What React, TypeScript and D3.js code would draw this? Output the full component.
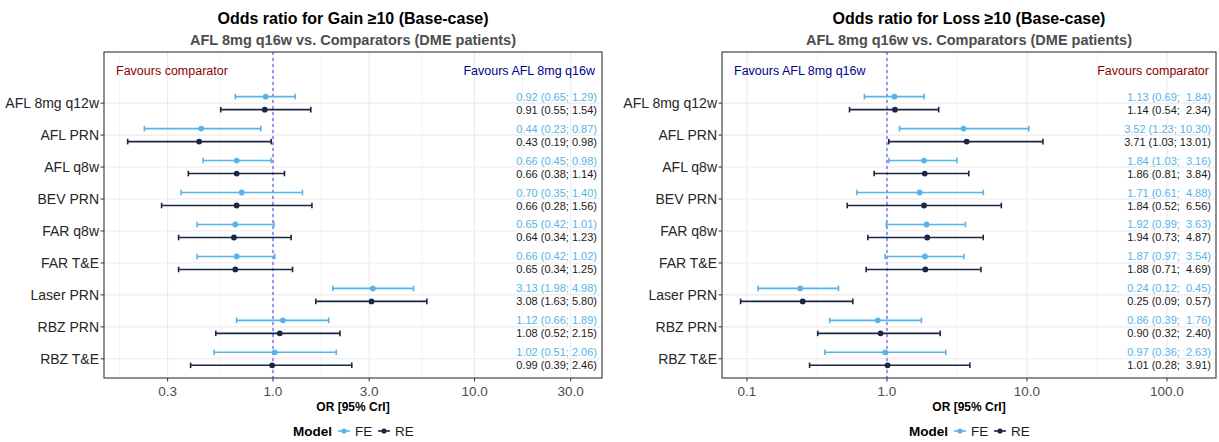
import React from "react";
import * as d3 from "d3";

// comparators, top to bottom
const categories = [
  "AFL 8mg q12w",
  "AFL PRN",
  "AFL q8w",
  "BEV PRN",
  "FAR q8w",
  "FAR T&E",
  "Laser PRN",
  "RBZ PRN",
  "RBZ T&E",
];

// Gain >=10 : [estimate, lower, upper]
const gainFE = [
  [0.92, 0.65, 1.29], [0.44, 0.23, 0.87], [0.66, 0.45, 0.98], [0.70, 0.35, 1.40],
  [0.65, 0.42, 1.01], [0.66, 0.42, 1.02], [3.13, 1.98, 4.98], [1.12, 0.66, 1.89],
  [1.02, 0.51, 2.06],
];
const gainRE = [
  [0.91, 0.55, 1.54], [0.43, 0.19, 0.98], [0.66, 0.38, 1.14], [0.66, 0.28, 1.56],
  [0.64, 0.34, 1.23], [0.65, 0.34, 1.25], [3.08, 1.63, 5.80], [1.08, 0.52, 2.15],
  [0.99, 0.39, 2.46],
];

// Loss >=10
const lossFE = [
  [1.13, 0.69, 1.84], [3.52, 1.23, 10.30], [1.84, 1.03, 3.16], [1.71, 0.61, 4.88],
  [1.92, 0.99, 3.63], [1.87, 0.97, 3.54], [0.24, 0.12, 0.45], [0.86, 0.39, 1.76],
  [0.97, 0.36, 2.63],
];
const lossRE = [
  [1.14, 0.54, 2.34], [3.71, 1.03, 13.01], [1.86, 0.81, 3.84], [1.84, 0.52, 6.56],
  [1.94, 0.73, 4.87], [1.88, 0.71, 4.69], [0.25, 0.09, 0.57], [0.90, 0.32, 2.40],
  [1.01, 0.28, 3.91],
];

const gainTicks = [0.3, 1, 3, 10, 30];
const lossTicks = [0.1, 1, 10, 100];

const FE_COL = "#56B4E9";
const RE_COL = "#1c2541";
const FONT = "'Liberation Sans', Arial, sans-serif";

const fmt = d3.format(".2f");
// pad the upper bound like sprintf("%5.2f") does
const label = (d: number[], w: number) =>
  `${fmt(d[0])} (${fmt(d[1])}; ${fmt(d[2]).padStart(w, "\u00a0")})`;

type PanelProps = {
  title: string;
  fe: number[][];
  re: number[][];
  domain: [number, number];
  ticks: number[];
  minor: number[];
  left: number;
  right: number;
  favLeft: string;
  favRight: string;
  favLeftCol: string;
  favRightCol: string;
  padW: number;
};

const Panel = (p: PanelProps) => {
  const top = 52;
  const bottom = 378;
  const x = d3.scaleLog().domain(p.domain).range([p.left, p.right]);
  // first slot is the row holding the "Favours" notes
  const y = d3
    .scalePoint<string>()
    .domain(["__fav", ...categories])
    .range([top, bottom])
    .padding(0.6);
  const dodge = 6.5;
  const cx = (p.left + p.right) / 2;

  const bars = (data: number[][], col: string, off: number, r: number) =>
    data.map((d, i) => {
      const yy = (y(categories[i]) as number) + off;
      return (
        <g key={col + i}>
          <line x1={x(d[1])} x2={x(d[2])} y1={yy} y2={yy} stroke={col} strokeWidth={1.6} />
          <line x1={x(d[1])} x2={x(d[1])} y1={yy - 2.8} y2={yy + 2.8} stroke={col} strokeWidth={1.6} />
          <line x1={x(d[2])} x2={x(d[2])} y1={yy - 2.8} y2={yy + 2.8} stroke={col} strokeWidth={1.6} />
          <circle cx={x(d[0])} cy={yy} r={r} fill={col} />
        </g>
      );
    });

  return (
    <g fontFamily={FONT}>
      <text x={cx} y={24} textAnchor="middle" fontSize={16} fontWeight="bold" fill="#000">
        {p.title}
      </text>
      <text x={cx} y={45} textAnchor="middle" fontSize={14.5} fontWeight="bold" fill="#4d4d4d">
        AFL 8mg q16w vs. Comparators (DME patients)
      </text>

      <rect x={p.left} y={top} width={p.right - p.left} height={bottom - top} fill="#fff" />
      {p.minor.map((t) => (
        <line key={"mn" + t} x1={x(t)} x2={x(t)} y1={top} y2={bottom} stroke="#F2F2F2" strokeWidth={0.8} />
      ))}
      {p.ticks.map((t) => (
        <line key={"mj" + t} x1={x(t)} x2={x(t)} y1={top} y2={bottom} stroke="#EBEBEB" strokeWidth={1.1} />
      ))}
      {categories.map((c) => (
        <line key={"hg" + c} x1={p.left} x2={p.right} y1={y(c)} y2={y(c)} stroke="#EBEBEB" strokeWidth={1.1} />
      ))}

      <line x1={x(1)} x2={x(1)} y1={top} y2={bottom} stroke="#3b3bff" strokeWidth={1} strokeDasharray="3,3" />

      {bars(p.fe, FE_COL, -dodge, 2.9)}
      {bars(p.re, RE_COL, dodge, 2.9)}

      {categories.map((c, i) => (
        <g key={"lb" + c} fontSize={11} textAnchor="end">
          <text x={p.right - 5} y={(y(c) as number) - dodge + 4} fill={FE_COL}>
            {label(p.fe[i], p.padW)}
          </text>
          <text x={p.right - 5} y={(y(c) as number) + dodge + 4} fill="#1a1a1a">
            {label(p.re[i], p.padW)}
          </text>
        </g>
      ))}

      <text x={p.left + 12} y={(y("__fav") as number) + 4} fontSize={12.5} fill={p.favLeftCol}>
        {p.favLeft}
      </text>
      <text x={p.right - 7} y={(y("__fav") as number) + 4} fontSize={12.5} textAnchor="end" fill={p.favRightCol}>
        {p.favRight}
      </text>

      <rect x={p.left} y={top} width={p.right - p.left} height={bottom - top} fill="none" stroke="#333" strokeWidth={1.1} />

      {categories.map((c) => (
        <g key={"yt" + c}>
          <line x1={p.left - 3.5} x2={p.left} y1={y(c)} y2={y(c)} stroke="#333" />
          <text x={p.left - 5} y={(y(c) as number) + 5} textAnchor="end" fontSize={14} fill="#262626">
            {c}
          </text>
        </g>
      ))}
      {p.ticks.map((t) => (
        <g key={"xt" + t}>
          <line x1={x(t)} x2={x(t)} y1={bottom} y2={bottom + 3.5} stroke="#333" />
          <text x={x(t)} y={bottom + 18} textAnchor="middle" fontSize={13.5} fill="#4d4d4d">
            {d3.format(".1f")(t)}
          </text>
        </g>
      ))}
      <text x={cx} y={bottom + 33} textAnchor="middle" fontSize={12} fontWeight="bold" fill="#000">
        OR [95% CrI]
      </text>

      <g transform={`translate(${cx - 60},436)`} fontSize={13.5}>
        <text x={0} y={0} fontWeight="bold" fill="#000">Model</text>
        <line x1={45} x2={57} y1={-5} y2={-5} stroke={FE_COL} strokeWidth={1.6} />
        <circle cx={51} cy={-5} r={2.6} fill={FE_COL} />
        <text x={62} y={0} fill="#1a1a1a">FE</text>
        <line x1={85} x2={97} y1={-5} y2={-5} stroke={RE_COL} strokeWidth={1.6} />
        <circle cx={91} cy={-5} r={2.6} fill={RE_COL} />
        <text x={102} y={0} fill="#1a1a1a">RE</text>
      </g>
    </g>
  );
};

export default function App() {
  return (
    <svg width={1219} height={442} style={{ position: "absolute", left: 0, top: 0, background: "#fff" }}>
      <Panel
        title="Odds ratio for Gain ≥10 (Base-case)"
        fe={gainFE}
        re={gainRE}
        domain={[0.145, 42.9]}
        ticks={gainTicks}
        minor={[0.173, 0.548, 1.73, 5.48, 17.3]}
        left={104}
        right={602}
        favLeft="Favours comparator"
        favRight="Favours AFL 8mg q16w"
        favLeftCol="#8B0000"
        favRightCol="#00008B"
        padW={4}
      />
      <Panel
        title="Odds ratio for Loss ≥10 (Base-case)"
        fe={lossFE}
        re={lossRE}
        domain={[0.0663, 224]}
        ticks={lossTicks}
        minor={[0.316, 3.16, 31.6]}
        left={722}
        right={1216}
        favLeft="Favours AFL 8mg q16w"
        favRight="Favours comparator"
        favLeftCol="#00008B"
        favRightCol="#8B0000"
        padW={5}
      />
    </svg>
  );
}
